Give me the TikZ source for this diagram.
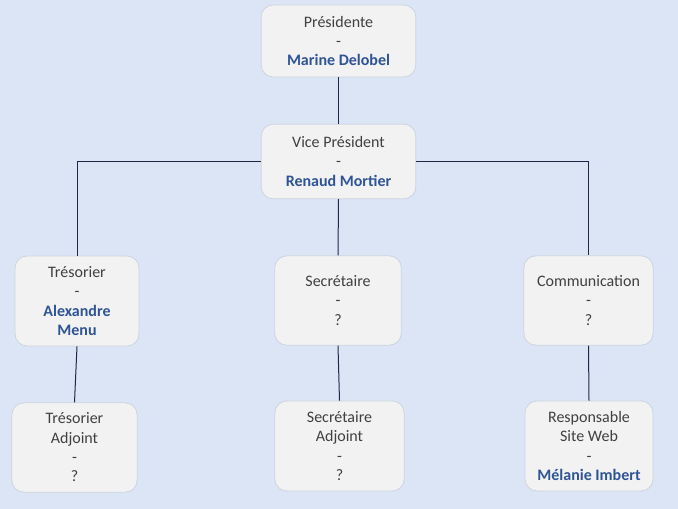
\documentclass[tikz,border=0pt]{standalone}
\usepackage{fontspec}
\setmainfont{Carlito}
\usepackage{tikz}
\usetikzlibrary{positioning}
\definecolor{fond}{RGB}{219,229,245}
\definecolor{boite}{RGB}{242,242,242}
\definecolor{bord}{RGB}{205,212,222}
\definecolor{texte}{RGB}{64,64,64}
\definecolor{nom}{RGB}{47,84,150}
\definecolor{trait}{RGB}{30,40,70}
\newcommand{\nomp}[1]{{\bfseries\color{nom}#1}}

\begin{document}
\begin{tikzpicture}[x=0.75pt, y=-0.75pt,
  poste/.style={draw=bord, fill=boite, rounded corners=9pt, line width=0.6pt,
    align=center, inner sep=0pt, text=texte, font=\fontsize{12}{14.5}\selectfont,
    minimum width=95pt, minimum height=67pt},
  lien/.style={draw=trait, line width=0.75pt}]
\fill[fond] (0,0) rectangle (678,509);
\useasboundingbox (0,0) rectangle (678,509);

% bureau
\node[poste, minimum width=116pt, minimum height=54pt] (pres) at (338.5,41) {Présidente\\-\\\nomp{Marine Delobel}};
\node[poste, minimum width=116pt, minimum height=56pt] (vice) at (338.5,161.5) {Vice Président\\-\\\nomp{Renaud Mortier}};

% postes
\node[poste, minimum width=93pt, minimum height=67.5pt] (tres) at (77,301) {Trésorier\\-\\\nomp{Alexandre}\\\nomp{Menu}};
\node[poste] (secr) at (338,300.5) {Secrétaire\\-\\?};
\node[poste, minimum width=97pt] (comm) at (588.5,300.5) {Communication\\-\\?};

% adjoints
\node[poste, minimum width=94pt] (tresadj) at (74.5,447.5) {Trésorier\\Adjoint\\-\\?};
\node[poste, minimum width=97pt, minimum height=67.5pt] (secradj) at (339.5,446) {Secrétaire\\Adjoint\\-\\?};
\node[poste, minimum width=96pt, minimum height=67.5pt] (resp) at (589,446) {Responsable\\Site Web\\-\\\nomp{Mélanie Imbert}};

% liens
\path[lien] (pres.south) -- (vice.north);
\path[lien] (vice.west) -| (tres.north);
\path[lien] (vice.east) -| (comm.north);
\path[lien] (vice.south) -- (secr.north);
\path[lien] (tres.south) -- (tresadj.north);
\path[lien] (secr.south) -- (secradj.north);
\path[lien] (comm.south) -- (resp.north);
\end{tikzpicture}
\end{document}
